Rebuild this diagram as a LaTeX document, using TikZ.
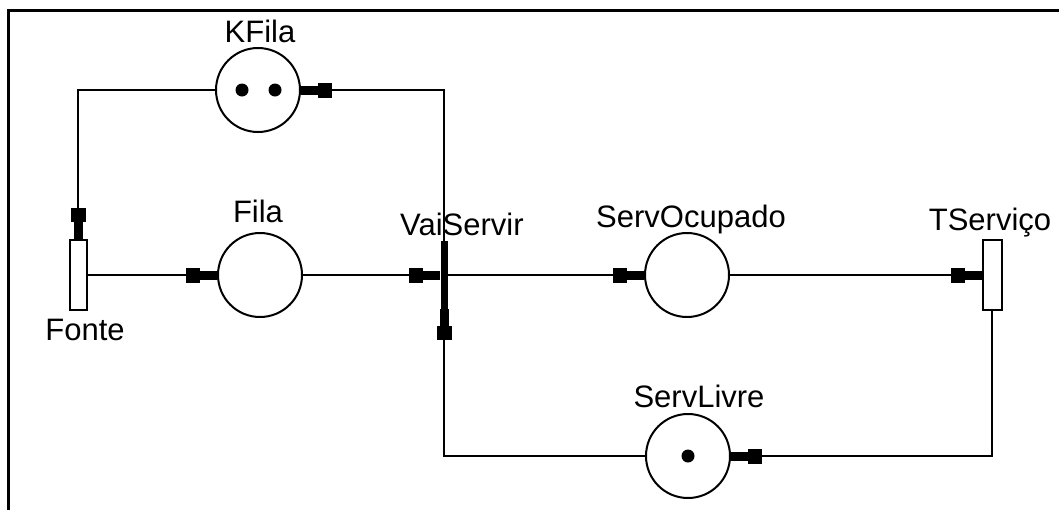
\documentclass[tikz,border=0pt]{standalone}
\usepackage{fontspec}
\setmainfont{Liberation Sans}
\usetikzlibrary{arrows.meta}
\begin{document}
\begin{tikzpicture}[x=1pt,y=-1pt,
  place/.style={circle,draw,line width=2pt,minimum size=84pt,inner sep=0pt},
  trans/.style={rectangle,draw,line width=2pt,minimum width=17pt,minimum height=70pt,inner sep=0pt},
  bar/.style={rectangle,fill=black,minimum width=7pt,minimum height=68pt,inner sep=0pt},
  token/.style={circle,fill=black,minimum size=13pt,inner sep=0pt},
  lbl/.style={font=\fontsize{31}{36}\selectfont,inner sep=0pt,anchor=base},
  arc/.style={line width=2pt,-{Rectangle[length=14pt,width=15pt,sep=0pt]Rectangle[length=17pt,width=9pt]}},
  frame/.style={line width=3pt}]
\useasboundingbox (0,0) rectangle (1059,509);
\draw[frame] (8,512) -- (8,10) -- (1062,10);
% places
\node[place] (kfila) at (258,90) {};
\node[place] (fila) at (260,275) {};
\node[place] (servocc) at (687,275) {};
\node[place] (servlivre) at (688,456) {};
% tokens
\node[token] (k1) at (242,90) {};
\node[token] (k2) at (275,90) {};
\node[token] (s1) at (688,456) {};
% transitions
\node[trans] (fonte) at (78,275) {};
\node[bar] (vai) at (444,275) {};
\node[trans,minimum width=19pt] (tserv) at (992,275) {};
% labels
\node[lbl] (lkfila) at (260,42) {KFila};
\node[lbl] (lfila) at (258,222) {Fila};
\node[lbl,anchor=base west] (lvai) at (400,235) {VaiServir};
\node[lbl] (locc) at (691,227) {ServOcupado};
\node[lbl] (lts) at (990,230) {TServiço};
\node[lbl] (lfonte) at (85,340) {Fonte};
\node[lbl] (llivre) at (699,407) {ServLivre};
% arcs
\draw[arc] (fonte) -- (fila);
\draw[arc] (fila) -- (vai);
\draw[arc] (vai) -- (servocc);
\draw[arc] (servocc) -- (tserv);
\draw[arc] (tserv) |- (servlivre);
\draw[arc] (servlivre) -| (vai);
\draw[arc] (vai) |- (kfila);
\draw[arc] (kfila) -| (fonte);
\end{tikzpicture}
\end{document}
